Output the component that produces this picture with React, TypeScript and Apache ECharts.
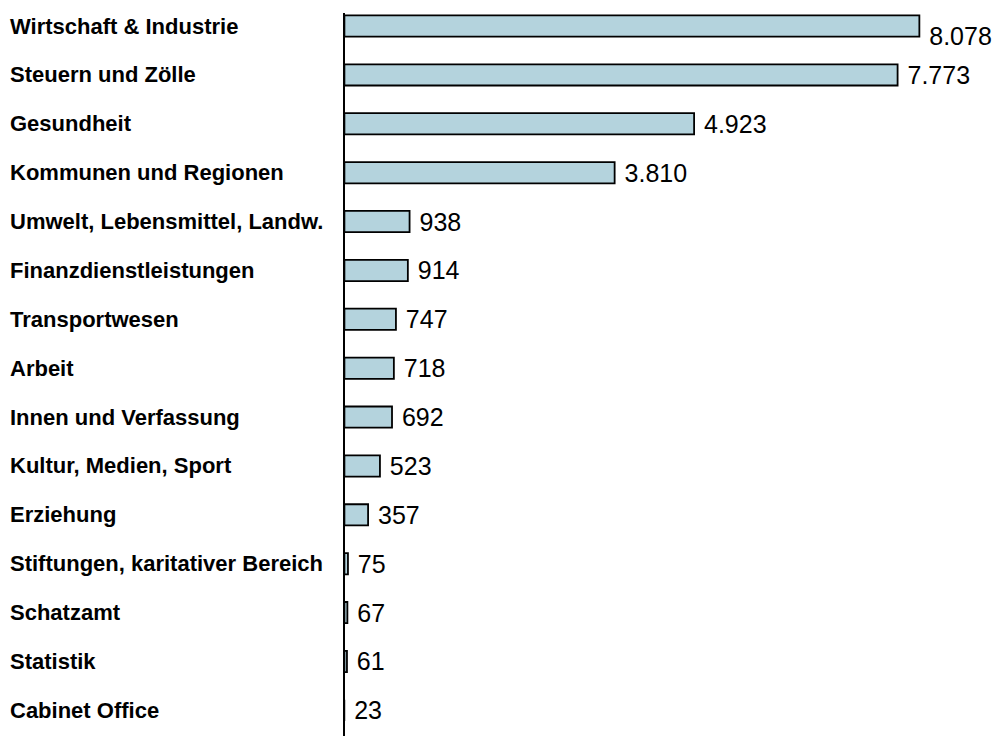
import React, { useEffect, useRef } from "react";
import * as echarts from "echarts";

const categories: string[] = [
  "Wirtschaft & Industrie",
  "Steuern und Zölle",
  "Gesundheit",
  "Kommunen und Regionen",
  "Umwelt, Lebensmittel, Landw.",
  "Finanzdienstleistungen",
  "Transportwesen",
  "Arbeit",
  "Innen und Verfassung",
  "Kultur, Medien, Sport",
  "Erziehung",
  "Stiftungen, karitativer Bereich",
  "Schatzamt",
  "Statistik",
  "Cabinet Office",
];

const values: number[] = [8078, 7773, 4923, 3810, 938, 914, 747, 718, 692, 523, 357, 75, 67, 61, 23];

const formatDE = (v: number): string => {
  const s = String(Math.round(v));
  return s.replace(/\B(?=(\d{3})+(?!\d))/g, ".");
};

export default function App() {
  const ref = useRef<HTMLDivElement>(null);

  useEffect(() => {
    if (!ref.current) return;
    const chart = echarts.init(ref.current, undefined, { renderer: "svg" });
    const gridLeft = 343.5;
    const axisMax = 9000;
    const gridWidth = axisMax * 0.0714;
    chart.setOption({
      animation: false,
      backgroundColor: "#ffffff",
      grid: {
        left: gridLeft,
        width: gridWidth,
        top: 1.6,
        height: 733.2,
        containLabel: false,
      },
      xAxis: {
        type: "value",
        min: 0,
        max: axisMax,
        show: false,
        splitLine: { show: false },
      },
      yAxis: {
        type: "category",
        data: categories,
        inverse: true,
        axisLine: { show: false },
        axisTick: { show: false },
        splitLine: { show: false },
        axisLabel: {
          align: "left",
          margin: gridLeft - 10,
          color: "#000000",
          fontFamily: "'Liberation Sans', Arial, sans-serif",
          fontWeight: "bold",
          fontSize: 22,
          padding: [2, 0, 0, 0],
        },
      },
      graphic: [
        {
          type: "line",
          shape: { x1: 344, y1: 13, x2: 344, y2: 740 },
          style: { stroke: "#000000", lineWidth: 2 },
          z: 10,
        },
      ],
      series: [
        {
          type: "bar",
          barWidth: 23,
          data: values.map((v, i) =>
            i === 0 ? { value: v, label: { offset: [0, 10] } } : v
          ),
          itemStyle: {
            color: "#B4D3DD",
            borderColor: "#000000",
            borderWidth: 1.8,
          },
          label: {
            show: true,
            position: "right",
            distance: 9,
            color: "#000000",
            fontFamily: "'Liberation Sans', Arial, sans-serif",
            fontSize: 25,
            formatter: (p: any) => formatDE(p.value),
          },
        },
      ],
    });
    return () => chart.dispose();
  }, []);

  return (
    <div
      ref={ref}
      style={{ position: "absolute", left: 0, top: 0, width: 997, height: 736 }}
    />
  );
}
